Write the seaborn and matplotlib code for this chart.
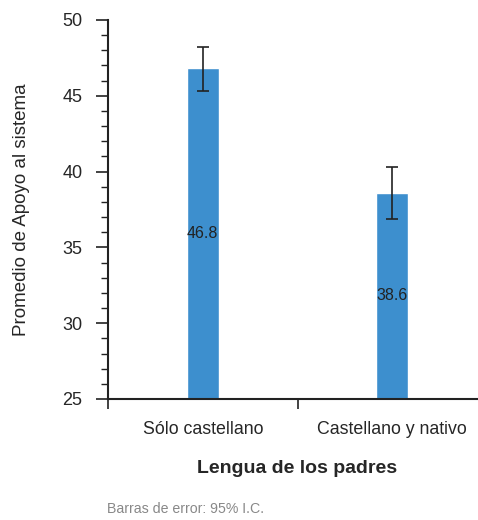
import pandas as pd
import seaborn as sns
import matplotlib.pyplot as plt
from matplotlib.ticker import MultipleLocator, FixedLocator

# data
categorias = ['Sólo castellano', 'Castellano y nativo']
promedios = [46.8, 38.6]
ic_inferior = [45.3, 36.9]
ic_superior = [48.2, 40.3]
etiquetas = ['46.8', '38.6']

df = pd.DataFrame({'lengua': categorias, 'promedio': promedios})

sns.set_style('white')
plt.rcParams['font.family'] = ['Liberation Sans Narrow', 'Liberation Sans', 'DejaVu Sans']

fig = plt.figure(figsize=(4.78, 5.2), dpi=100)
ax = fig.add_axes([0.226, 0.2327, 0.793, 0.729])

sns.barplot(data=df, x='lengua', y='promedio', color='#3d8fce', width=0.168,
            errorbar=None, saturation=1, ax=ax, zorder=2)

# error bars (95% CI) and centered value labels
for patch, m, lo, hi, txt in zip(ax.patches, promedios, ic_inferior, ic_superior, etiquetas):
    xc = patch.get_x() + patch.get_width() / 2
    ax.errorbar(xc, m, yerr=[[m - lo], [hi - m]], fmt='none', ecolor='#222222',
                elinewidth=1.2, capsize=4.5, capthick=1.2, zorder=3)
    ax.text(xc, (25 + m) / 2, txt, ha='center', va='center', fontsize=11.5, color='#222222')

ax.set_ylim(25, 50)
ax.set_xlim(-0.5, 1.5)
ax.yaxis.set_major_locator(MultipleLocator(5))
ax.yaxis.set_minor_locator(MultipleLocator(1))
ax.xaxis.set_minor_locator(FixedLocator([-0.5, 0.5]))

for s in ['top', 'right']:
    ax.spines[s].set_visible(False)
for s in ['left', 'bottom']:
    ax.spines[s].set_linewidth(1.5)
    ax.spines[s].set_color('#222222')

ax.tick_params(axis='y', which='major', length=8.5, width=1.2, color='#222222',
               labelsize=13, pad=10, left=True)
ax.tick_params(axis='y', which='minor', length=5, width=1.0, color='#222222', left=True)
ax.tick_params(axis='x', which='major', length=0, labelsize=12.8, pad=16)
ax.tick_params(axis='x', which='minor', length=7, width=1.2, color='#222222', bottom=True)

ax.set_ylabel('Promedio de Apoyo al sistema', fontsize=13.5, labelpad=23)
ax.set_xlabel('Lengua de los padres', fontsize=14, fontweight='bold', labelpad=16)

fig.text(107 / 478, 1 - 509 / 520, 'Barras de error: 95% I.C.', fontsize=10.2,
         color='#888888', va='center', ha='left')

fig.savefig('out.png', dpi=100)
